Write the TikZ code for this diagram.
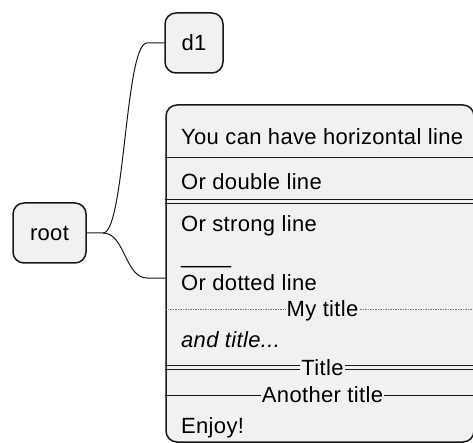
\documentclass[tikz,border=0pt]{standalone}
\usepackage{fontspec}
\setmainfont[LetterSpace=1.5]{Liberation Sans}
\usetikzlibrary{calc}
\definecolor{boxfill}{HTML}{F1F1F1}
\definecolor{boxline}{HTML}{181818}
\definecolor{dotline}{HTML}{777777}
\tikzset{
  mmbox/.style={draw=boxline, fill=boxfill, line width=1.5pt, rounded corners=11pt, inner sep=0pt},
  lbl/.style={anchor=base west, inner sep=0pt, text=black},
  capht/.style={text height=15.75pt, text depth=0pt},
  sepline/.style={draw=boxline, line width=1pt},
  ttl/.style={fill=boxfill, inner sep=1pt, text=black, text height=15.75pt, text depth=0pt},
  conn/.style={draw=boxline, line width=1pt},
}
\begin{document}
\begin{tikzpicture}[x=1pt,y=-1pt, font=\fontsize{22}{26}\selectfont]
\useasboundingbox (0,0) rectangle (473,443);
% nodes
\node[mmbox, capht, minimum width=73pt, minimum height=60pt] (root) at (49.5,233) {root};
\node[mmbox, capht, minimum width=58pt, minimum height=60pt] (d1) at (194,43) {d1};
\node[mmbox, minimum width=308pt, minimum height=337pt] (big) at (320,273.5) {};
% connectors
\coordinate (j) at (103,233);
\draw[conn] (root.east) -- (j) .. controls (125,233) and (125,43) .. (147,43) -- (d1.west);
\draw[conn] (j) .. controls (125,233) and (125,278) .. (147,278) -- (big.west |- 0,278);
% separators
\draw[sepline] (big.west |- 0,158) -- (big.east |- 0,158);
\draw[sepline] (big.west |- 0,200) -- (big.east |- 0,200);
\draw[sepline] (big.west |- 0,204) -- (big.east |- 0,204);
\draw[draw=dotline, line width=0.8pt, dash pattern=on 1.5pt off 1pt] (big.west |- 0,309) -- (big.east |- 0,309);
\draw[sepline] (big.west |- 0,365.5) -- (big.east |- 0,365.5);
\draw[sepline] (big.west |- 0,369.5) -- (big.east |- 0,369.5);
\draw[sepline] (big.west |- 0,395) -- (big.east |- 0,395);
% texts
\node[lbl] (t1) at (181,145) {You can have horizontal line};
\node[lbl] (t2) at (181,190) {Or double line};
\node[lbl] (t3) at (181,232) {Or strong line};
\node[lbl] (t4) at (181,263) {\_\_\_\_};
\node[lbl] (t5) at (181,290) {Or dotted line};
\node[ttl] (t6) at (322.5,309) {My title};
\node[lbl] (t7) at (181,347) {\itshape and title...};
\node[ttl] (t8) at (322.5,367.5) {Title};
\node[ttl] (t9) at (322.5,395) {Another title};
\node[lbl] (t10) at (181,433) {Enjoy!};
\end{tikzpicture}
\end{document}
